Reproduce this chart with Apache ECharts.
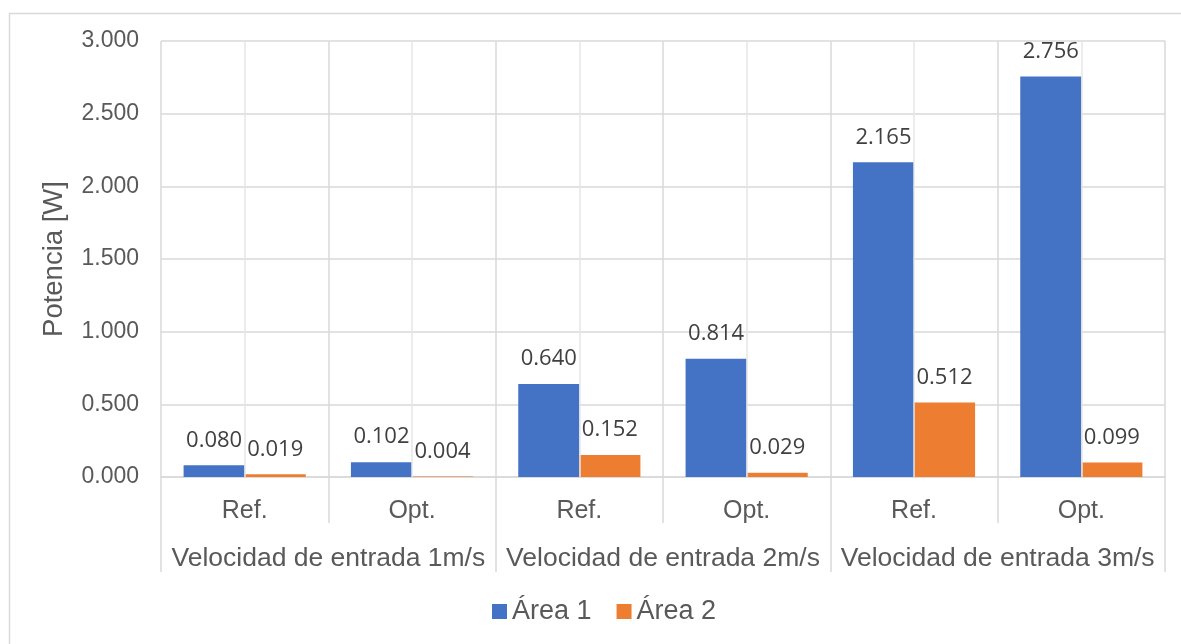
<!DOCTYPE html>
<html>
<head>
<meta charset="utf-8">
<script src="https://cdn.jsdelivr.net/npm/echarts@6/dist/echarts.min.js"></script>
<style>
  html, body { margin: 0; padding: 0; background: #ffffff; }
  #chart { width: 1181px; height: 644px; }
</style>
</head>
<body>
<div id="chart"></div>
<script>
// Inner categories (design variant) and outer groups (inlet velocity)
const categories = ['Ref.', 'Opt.', 'Ref.', 'Opt.', 'Ref.', 'Opt.'];
const groups = ['Velocidad de entrada 1m/s', 'Velocidad de entrada 2m/s', 'Velocidad de entrada 3m/s'];
// Power per area [W]
const area1 = [0.080, 0.102, 0.640, 0.814, 2.165, 2.756];
const area2 = [0.019, 0.004, 0.152, 0.029, 0.512, 0.099];
const seriesNames = ['Área 1', 'Área 2'];
const yTicks = { min: 0, max: 3, step: 0.5 };

const axisFont = 'Liberation Sans, Arial, sans-serif';
const labelFont = 'Open Sans, sans-serif';
const textColor = '#595959';
const gridDark = '#d9d9d9';
const gridLight = '#e6e6e6';

const chart = echarts.init(document.getElementById('chart'), null, { renderer: 'canvas' });

const barSeries = [area1, area2].map(function (vals, k) {
  return {
    name: seriesNames[k],
    type: 'bar',
    xAxisIndex: 0,
    z: 3,
    data: vals,
    barGap: '0%',
    barCategoryGap: '27%',
    itemStyle: { color: k === 0 ? '#4472c4' : '#ed7d31' },
    label: {
      show: true,
      position: 'top',
      distance: 14,
      fontFamily: labelFont,
      fontSize: 22,
      color: '#404040',
      formatter: function (p) { return p.value.toFixed(3); }
    }
  };
});

// lighter vertical grid lines through each category centre, kept behind the bars
const centreLines = {
  name: 'centre-grid',
  type: 'line',
  xAxisIndex: 0,
  data: [],
  z: 1,
  silent: true,
  markLine: {
    silent: true,
    symbol: ['none', 'none'],
    label: { show: false },
    lineStyle: { color: gridLight, width: 1.5, type: 'solid' },
    emphasis: { disabled: true },
    data: categories.map(function (c, i) { return { xAxis: i }; })
  }
};

chart.setOption({
  animation: false,
  backgroundColor: '#ffffff',
  graphic: [{
    type: 'rect',
    left: 7, top: 11,
    shape: { width: 1200, height: 700 },
    style: { fill: 'none', stroke: gridDark, lineWidth: 1.5 },
    silent: true
  }],
  grid: { left: 161, right: 16, top: 41, bottom: 167, containLabel: false },
  legend: {
    left: 487, top: 593,
    itemWidth: 15, itemHeight: 15, itemGap: 25,
    icon: 'rect',
    textStyle: { fontFamily: axisFont, fontSize: 27, color: textColor },
    data: seriesNames
  },
  xAxis: [
    {
      type: 'category',
      data: categories,
      position: 'bottom',
      z: 1,
      axisLine: { show: true, lineStyle: { color: gridDark, width: 1.5 } },
      axisTick: { show: true, interval: 0, length: 46, lineStyle: { color: gridDark, width: 1.5 } },
      axisLabel: { interval: 0, margin: 22, fontFamily: axisFont, fontSize: 25, color: textColor },
      splitLine: { show: true, interval: 0, lineStyle: { color: gridDark, width: 1.5 } }
    },
    {
      type: 'category',
      data: groups,
      position: 'bottom',
      z: 1,
      axisLine: { show: false },
      axisTick: { show: true, interval: 0, length: 95, lineStyle: { color: gridDark, width: 1.5 } },
      axisLabel: { interval: 0, margin: 68, fontFamily: axisFont, fontSize: 26.5, color: textColor },
      splitLine: { show: false }
    }
  ],
  yAxis: {
    type: 'value',
    min: yTicks.min, max: yTicks.max, interval: yTicks.step,
    name: 'Potencia [W]',
    nameLocation: 'middle',
    nameGap: 93,
    nameTextStyle: { fontFamily: axisFont, fontSize: 27.5, color: textColor },
    axisLine: { show: false },
    axisTick: { show: false },
    axisLabel: {
      margin: 22, fontFamily: axisFont, fontSize: 23, color: textColor,
      formatter: function (v) { return v.toFixed(3); }
    },
    splitLine: { show: true, lineStyle: { color: gridDark, width: 1.5 } }
  },
  series: [centreLines].concat(barSeries)
});
</script>
</body>
</html>
